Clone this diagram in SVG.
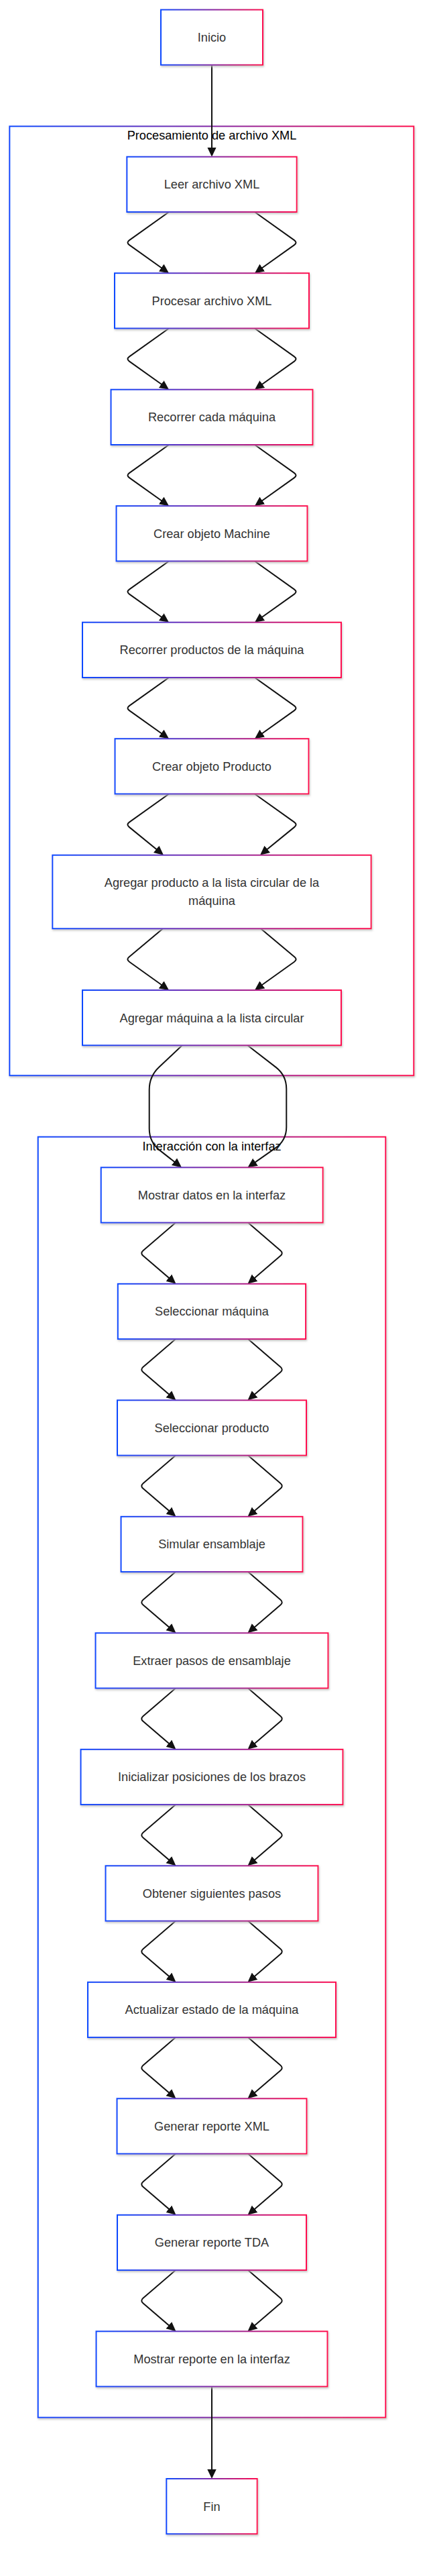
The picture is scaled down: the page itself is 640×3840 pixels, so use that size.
<svg xmlns="http://www.w3.org/2000/svg" width="640" height="3840" viewBox="0 0 640 3840">
<defs>
<linearGradient id="grad" x1="0" y1="0" x2="1" y2="0">
<stop offset="0" stop-color="#0d4aff"/>
<stop offset="1" stop-color="#ff0a4f"/>
</linearGradient>
<filter id="sh" x="-10%" y="-10%" width="120%" height="130%">
<feDropShadow dx="1" dy="2" stdDeviation="1.5" flood-color="#b9b9b9" flood-opacity="0.8"/>
</filter>
<marker id="arr" markerUnits="userSpaceOnUse" markerWidth="14" markerHeight="14" viewBox="0 0 14 14" refX="11" refY="7" orient="auto">
<path d="M0,0.3 L14,7 L0,13.7 Z" fill="#111"/>
</marker>
<style>
.box{fill:#fff;stroke:url(#grad);stroke-width:2;filter:url(#sh)}
.lbl{font-family:"Liberation Sans",Arial,sans-serif;font-size:18.2px;fill:#333;text-anchor:middle}
.ttl{font-family:"Liberation Sans",Arial,sans-serif;font-size:18.2px;fill:#000;text-anchor:middle}
.e{fill:none;stroke:#111;stroke-width:2;marker-end:url(#arr)}
</style>
</defs>
<rect width="640" height="3840" fill="#fff"/>

<g id="cluster-procesamiento">
<rect class="box" x="14.3" y="188.3" width="603" height="1415"/>
<text class="ttl" x="316" y="208.3">Procesamiento de archivo XML</text>
</g>
<g id="cluster-interaccion">
<rect class="box" x="56.7" y="1694.7" width="518.6" height="1909"/>
<text class="ttl" x="316" y="1714.7">Interacción con la interfaz</text>
</g>

<g id="connectors">
<path class="e" d="M316,96.8 L316,230.7"/>
<path class="e" d="M252,316 L192.9,358.1 Q188,361.6 192.9,365.1 L249.6,405.5"/>
<path class="e" d="M380,316 L439.1,358.1 Q444,361.6 439.1,365.1 L382.4,405.5"/>
<path class="e" d="M252,489.5 L192.9,531.6 Q188,535.1 192.9,538.6 L249.6,579"/>
<path class="e" d="M380,489.5 L439.1,531.6 Q444,535.1 439.1,538.6 L382.4,579"/>
<path class="e" d="M252,663 L192.9,705.1 Q188,708.6 192.9,712.1 L249.6,752.5"/>
<path class="e" d="M380,663 L439.1,705.1 Q444,708.6 439.1,712.1 L382.4,752.5"/>
<path class="e" d="M252,836.5 L192.9,878.6 Q188,882.1 192.9,885.6 L249.6,926"/>
<path class="e" d="M380,836.5 L439.1,878.6 Q444,882.1 439.1,885.6 L382.4,926"/>
<path class="e" d="M252,1010 L192.9,1052.1 Q188,1055.6 192.9,1059.1 L249.6,1099.5"/>
<path class="e" d="M380,1010 L439.1,1052.1 Q444,1055.6 439.1,1059.1 L382.4,1099.5"/>
<path class="e" d="M252,1183.5 L192.9,1225.6 Q188,1229.1 192.7,1232.9 L241.7,1272.8"/>
<path class="e" d="M380,1183.5 L439.1,1225.6 Q444,1229.1 439.3,1232.9 L390.3,1272.8"/>
<path class="e" d="M243,1384.3 L192.6,1426.4 Q188,1430.2 192.9,1433.7 L249.6,1474.3"/>
<path class="e" d="M389,1384.3 L439.4,1426.4 Q444,1430.2 439.1,1433.7 L382.4,1474.3"/>
<path class="e" d="M271.7,1558.3 L237.3,1590.8 Q222.7,1604.5 222.7,1624.5 L222.7,1682.6 Q222.7,1702.6 238.5,1714.9 L268.6,1738.5"/>
<path class="e" d="M369.3,1558.3 L411.5,1590.9 Q427.3,1603.2 427.3,1623.2 L427.3,1680 Q427.3,1700 410.9,1711.4 L372,1738.6"/>
<path class="e" d="M262,1822.6 L213.5,1864.3 Q209,1868.2 213.6,1872.1 L260.2,1911.9"/>
<path class="e" d="M370,1822.6 L418.5,1864.3 Q423,1868.2 418.4,1872.1 L371.8,1911.9"/>
<path class="e" d="M262,1996.1 L213.5,2037.8 Q209,2041.7 213.6,2045.6 L260.2,2085.4"/>
<path class="e" d="M370,1996.1 L418.5,2037.8 Q423,2041.7 418.4,2045.6 L371.8,2085.4"/>
<path class="e" d="M262,2169.6 L213.5,2211.3 Q209,2215.2 213.6,2219.1 L260.2,2258.9"/>
<path class="e" d="M370,2169.6 L418.5,2211.3 Q423,2215.2 418.4,2219.1 L371.8,2258.9"/>
<path class="e" d="M262,2343.1 L213.5,2384.8 Q209,2388.7 213.6,2392.6 L260.2,2432.4"/>
<path class="e" d="M370,2343.1 L418.5,2384.8 Q423,2388.7 418.4,2392.6 L371.8,2432.4"/>
<path class="e" d="M262,2516.6 L213.5,2558.3 Q209,2562.2 213.6,2566.1 L260.2,2605.9"/>
<path class="e" d="M370,2516.6 L418.5,2558.3 Q423,2562.2 418.4,2566.1 L371.8,2605.9"/>
<path class="e" d="M262,2690.1 L213.5,2731.8 Q209,2735.7 213.6,2739.6 L260.2,2779.4"/>
<path class="e" d="M370,2690.1 L418.5,2731.8 Q423,2735.7 418.4,2739.6 L371.8,2779.4"/>
<path class="e" d="M262,2863.6 L213.5,2905.3 Q209,2909.2 213.6,2913.1 L260.2,2952.9"/>
<path class="e" d="M370,2863.6 L418.5,2905.3 Q423,2909.2 418.4,2913.1 L371.8,2952.9"/>
<path class="e" d="M262,3037.1 L213.5,3078.8 Q209,3082.7 213.6,3086.6 L260.2,3126.4"/>
<path class="e" d="M370,3037.1 L418.5,3078.8 Q423,3082.7 418.4,3086.6 L371.8,3126.4"/>
<path class="e" d="M262,3210.6 L213.5,3252.3 Q209,3256.2 213.6,3260.1 L260.2,3299.9"/>
<path class="e" d="M370,3210.6 L418.5,3252.3 Q423,3256.2 418.4,3260.1 L371.8,3299.9"/>
<path class="e" d="M262,3384.1 L213.5,3425.8 Q209,3429.7 213.6,3433.6 L260.2,3473.4"/>
<path class="e" d="M370,3384.1 L418.5,3425.8 Q423,3429.7 418.4,3433.6 L371.8,3473.4"/>
<path class="e" d="M316,3557.6 L316,3692"/>
</g>

<g id="inicio"><rect class="box" x="240" y="14.5" width="152" height="82.3"/><text class="lbl" x="316" y="62">Inicio</text></g>
<g id="leer"><rect class="box" x="189.3" y="233.7" width="253.4" height="82.3"/><text class="lbl" x="316" y="281.2">Leer archivo XML</text></g>
<g id="procesar"><rect class="box" x="171" y="407.2" width="290" height="82.3"/><text class="lbl" x="316" y="454.7">Procesar archivo XML</text></g>
<g id="recorrer-maquina"><rect class="box" x="165.5" y="580.7" width="301" height="82.3"/><text class="lbl" x="316" y="628.2">Recorrer cada máquina</text></g>
<g id="crear-machine"><rect class="box" x="173.5" y="754.2" width="285" height="82.3"/><text class="lbl" x="316" y="801.7">Crear objeto Machine</text></g>
<g id="recorrer-productos"><rect class="box" x="123" y="927.7" width="386" height="82.3"/><text class="lbl" x="316" y="975.2">Recorrer productos de la máquina</text></g>
<g id="crear-producto"><rect class="box" x="171.5" y="1101.2" width="289" height="82.3"/><text class="lbl" x="316" y="1148.7">Crear objeto Producto</text></g>
<g id="agregar-producto"><rect class="box" x="78.3" y="1274.7" width="475.4" height="109.6"/><text class="lbl" x="316" y="1322.4">Agregar producto a la lista circular de la</text><text class="lbl" x="316" y="1349.4">máquina</text></g>
<g id="agregar-maquina"><rect class="box" x="123" y="1476" width="386" height="82.3"/><text class="lbl" x="316" y="1523.5">Agregar máquina a la lista circular</text></g>

<g id="mostrar-datos"><rect class="box" x="150.7" y="1740.3" width="331" height="82.3"/><text class="lbl" x="316" y="1787.8">Mostrar datos en la interfaz</text></g>
<g id="seleccionar-maquina"><rect class="box" x="175.8" y="1913.8" width="280.3" height="82.3"/><text class="lbl" x="316" y="1961.3">Seleccionar máquina</text></g>
<g id="seleccionar-producto"><rect class="box" x="175" y="2087.3" width="282" height="82.3"/><text class="lbl" x="316" y="2134.8">Seleccionar producto</text></g>
<g id="simular"><rect class="box" x="180.5" y="2260.8" width="271" height="82.3"/><text class="lbl" x="316" y="2308.3">Simular ensamblaje</text></g>
<g id="extraer"><rect class="box" x="142.5" y="2434.3" width="347" height="82.3"/><text class="lbl" x="316" y="2481.8">Extraer pasos de ensamblaje</text></g>
<g id="inicializar"><rect class="box" x="120.5" y="2607.8" width="391" height="82.3"/><text class="lbl" x="316" y="2655.3">Inicializar posiciones de los brazos</text></g>
<g id="obtener"><rect class="box" x="157.5" y="2781.3" width="317" height="82.3"/><text class="lbl" x="316" y="2828.8">Obtener siguientes pasos</text></g>
<g id="actualizar"><rect class="box" x="131" y="2954.8" width="370" height="82.3"/><text class="lbl" x="316" y="3002.3">Actualizar estado de la máquina</text></g>
<g id="generar-xml"><rect class="box" x="174.5" y="3128.3" width="283" height="82.3"/><text class="lbl" x="316" y="3175.8">Generar reporte XML</text></g>
<g id="generar-tda"><rect class="box" x="175" y="3301.8" width="282" height="82.3"/><text class="lbl" x="316" y="3349.3">Generar reporte TDA</text></g>
<g id="mostrar-reporte"><rect class="box" x="143.5" y="3475.3" width="345" height="82.3"/><text class="lbl" x="316" y="3522.8">Mostrar reporte en la interfaz</text></g>
<g id="fin"><rect class="box" x="248.3" y="3695" width="135.4" height="82.3"/><text class="lbl" x="316" y="3742.5">Fin</text></g>
</svg>
